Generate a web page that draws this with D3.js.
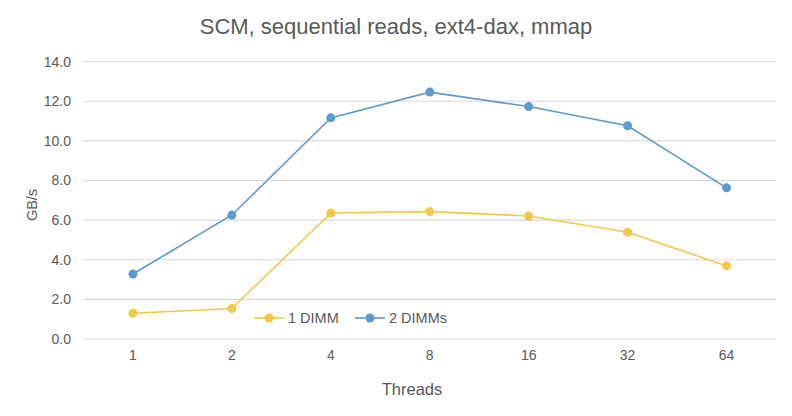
<!DOCTYPE html>
<html><head><meta charset="utf-8">
<script src="https://cdn.jsdelivr.net/npm/d3@7"></script>
<style>body{margin:0;background:#fff}</style>
</head><body>
<svg id="c" width="792" height="416"></svg>
<script>
const categories = ["1","2","4","8","16","32","64"];
const oneDimm = [1.30, 1.54, 6.36, 6.43, 6.21, 5.39, 3.69];
const twoDimms = [3.28, 6.26, 11.16, 12.46, 11.73, 10.76, 7.63];
const yTicks = [0,2,4,6,8,10,12,14];
const seriesNames = ["1 DIMM","2 DIMMs"];
const colors = ["#f0c945","#5b9bcf"];

const svg = d3.select("#c");
const font = "'Liberation Sans', Arial, Helvetica, sans-serif";
const x = d3.scaleBand().domain(categories).range([83.5, 776]);
const y = d3.scaleLinear().domain([0,14]).range([339, 61.6]);
const txt = "#595959";

// gridlines
svg.append("g").selectAll("line").data(yTicks).join("line")
  .attr("x1", 83.5).attr("x2", 776)
  .attr("y1", d=>y(d)).attr("y2", d=>y(d))
  .attr("stroke", "#d9d9d9").attr("stroke-width", 1.2);

// y axis labels
const yAxis = d3.axisLeft(y).tickValues(yTicks).tickFormat(d3.format(".1f")).tickSize(0).tickPadding(0);
const yg = svg.append("g").attr("transform","translate(71,0)").call(yAxis);
yg.select(".domain").remove();
yg.selectAll("text").attr("font-family", font).attr("font-size", 14).attr("fill", txt);

// x axis labels
const xAxis = d3.axisBottom(x).tickSize(0).tickPadding(0);
const xg = svg.append("g").attr("transform","translate(0,350)").call(xAxis);
xg.select(".domain").remove();
xg.selectAll("text").attr("font-family", font).attr("font-size", 14).attr("fill", txt);

const line = d3.line().x((d,i)=>x(categories[i]) + x.bandwidth()/2).y(d=>y(d));
[oneDimm, twoDimms].forEach((s, k) => {
  svg.append("path").datum(s).attr("d", line).attr("fill","none")
    .attr("stroke", colors[k]).attr("stroke-width", 1.6);
  svg.append("g").selectAll("circle").data(s).join("circle")
    .attr("cx", (d,i)=>x(categories[i]) + x.bandwidth()/2)
    .attr("cy", d=>y(d)).attr("r", 4.5).attr("fill", colors[k]);
});

// title
svg.append("text").attr("x", 396).attr("y", 34).attr("text-anchor","middle")
  .attr("font-family", font).attr("font-size", 22).attr("fill", txt)
  .text("SCM, sequential reads, ext4-dax, mmap");

// axis titles
svg.append("text").attr("transform","translate(37,205) rotate(-90)").attr("text-anchor","middle")
  .attr("font-family", font).attr("font-size", 14.5).attr("fill", txt).text("GB/s");
svg.append("text").attr("x", 412).attr("y", 395).attr("text-anchor","middle")
  .attr("font-family", font).attr("font-size", 16.5).attr("fill", txt).text("Threads");

// legend
const legX = [254, 355];
seriesNames.forEach((n,k) => {
  const g = svg.append("g").attr("transform", `translate(${legX[k]},318)`);
  g.append("line").attr("x1",0).attr("x2",30).attr("y1",0).attr("y2",0)
    .attr("stroke", colors[k]).attr("stroke-width", 1.6);
  g.append("circle").attr("cx",15).attr("cy",0).attr("r",4.5).attr("fill",colors[k]);
  g.append("text").attr("x",34).attr("y",5).attr("font-family", font).attr("font-size",14.5)
    .attr("fill", txt).text(n);
});
</script>
</body></html>
